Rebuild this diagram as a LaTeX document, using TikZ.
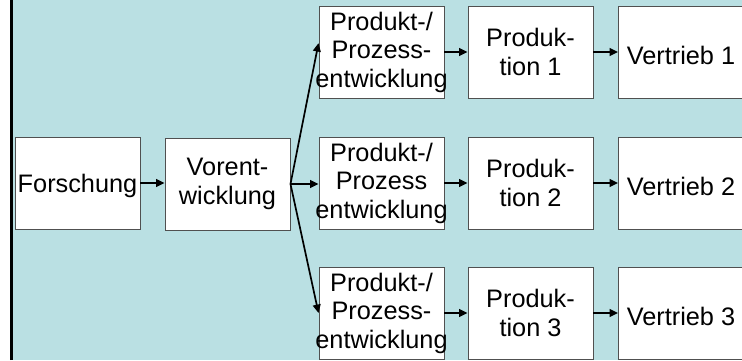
\documentclass[tikz,border=0pt]{standalone}
\usepackage{fontspec}
\setmainfont{Liberation Sans}
\usetikzlibrary{arrows.meta}

\definecolor{bgteal}{RGB}{186,224,227}
\definecolor{boxline}{RGB}{80,80,80}

% word that runs a little past the box edge
\newcommand{\wideword}[1]{\makebox[2.9cm]{#1}}

\tikzset{
  stagebox/.style={draw=boxline, line width=0.7pt, fill=white,
                   minimum width=3.125cm, minimum height=2.3cm,
                   inner sep=1pt, align=center,
                   font=\fontsize{18}{20.3}\selectfont,
                   execute at begin node={\rule{0pt}{17.5pt}}},
  flow/.style={->, line width=1.8pt},
  branch/.style={->, line width=1.2pt}
}

\begin{document}
\begin{tikzpicture}[>={Triangle[length=6pt,width=5.5pt]}]

\pgfmathsetmacro{\xforsch}{1.9375}
\pgfmathsetmacro{\xvorent}{5.6875}
\pgfmathsetmacro{\xproz}{9.5375}
\pgfmathsetmacro{\xprod}{13.2625}
\pgfmathsetmacro{\xvertr}{17.025}
\pgfmathsetmacro{\ytop}{7.7}
\pgfmathsetmacro{\ymid}{4.425}
\pgfmathsetmacro{\ybot}{1.175}

% BACKGROUND
\useasboundingbox (0,0) rectangle (18.55,9);
\fill[bgteal] (0.325,0) rectangle (18.55,9);
\draw[line width=2.1pt] (0.2875,0) -- (0.2875,9);

% LEFT PART
\node(forsch)[stagebox] at (\xforsch,\ymid) {Forschung};
\node(vorent)[stagebox] at (\xvorent,4.4) {Vorent-\\wicklung};

% top row
\node(proz1)[stagebox] at (\xproz,\ytop) {Produkt-/\\Prozess-\\\wideword{entwicklung}};
\node(prod1)[stagebox] at (\xprod,\ytop) {Produk-\\tion 1};
\node(vertr1)[stagebox] at (\xvertr,\ytop) {Vertrieb 1};

% middle row
\node(proz2)[stagebox] at (\xproz,\ymid) {Produkt-/\\Prozess\\\wideword{entwicklung}};
\node(prod2)[stagebox] at (\xprod,\ymid) {Produk-\\tion 2};
\node(vertr2)[stagebox] at (\xvertr,\ymid) {Vertrieb 2};

% bottom row
\node(proz3)[stagebox] at (\xproz,\ybot) {Produkt-/\\Prozess-\\\wideword{entwicklung}};
\node(prod3)[stagebox] at (\xprod,\ybot) {Produk-\\tion 3};
\node(vertr3)[stagebox] at (\xvertr,\ybot) {Vertrieb 3};

% ARROWS
\draw[flow] (forsch.east) -- (forsch.east -| vorent.west);

\draw[branch] (vorent.east) -- (proz1.172);
\draw[flow]   (vorent.east) -- (vorent.east -| proz2.west);
\draw[branch] (vorent.east) -- (proz3.west);

\draw[flow] (proz1.east) -- (prod1.west);
\draw[flow] (prod1.east) -- (vertr1.west);
\draw[flow] (proz2.east) -- (prod2.west);
\draw[flow] (prod2.east) -- (vertr2.west);
\draw[flow] (proz3.east) -- (prod3.west);
\draw[flow] (prod3.east) -- (vertr3.west);

\end{tikzpicture}
\end{document}
